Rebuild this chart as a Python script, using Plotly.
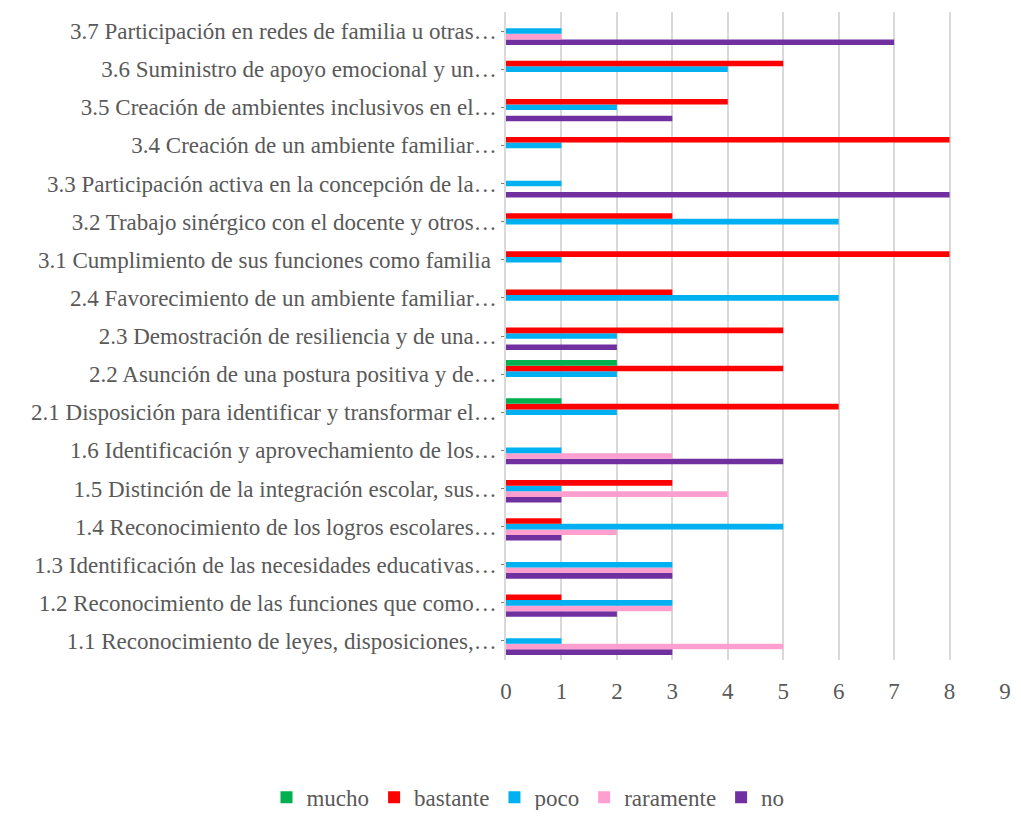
import plotly.graph_objects as go

categories = [
    "1.1 Reconocimiento de leyes, disposiciones,…",
    "1.2 Reconocimiento de las funciones que como…",
    "1.3 Identificación de las necesidades educativas…",
    "1.4 Reconocimiento de los logros escolares…",
    "1.5 Distinción de la integración escolar, sus…",
    "1.6 Identificación y aprovechamiento de los…",
    "2.1 Disposición para identificar y transformar el…",
    "2.2 Asunción de una postura positiva y de…",
    "2.3 Demostración de resiliencia y de una…",
    "2.4 Favorecimiento de un ambiente familiar…",
    "3.1 Cumplimiento de sus funciones como familia ",
    "3.2 Trabajo sinérgico con el docente y otros…",
    "3.3 Participación activa en la concepción de la…",
    "3.4 Creación de un ambiente familiar…",
    "3.5 Creación de ambientes inclusivos en el…",
    "3.6 Suministro de apoyo emocional y un…",
    "3.7 Participación en redes de familia u otras…",
]

mucho     = [0, 0, 0, 0, 0, 0, 1, 2, 0, 0, 0, 0, 0, 0, 0, 0, 0]
bastante  = [0, 1, 0, 1, 3, 0, 6, 5, 5, 3, 8, 3, 0, 8, 4, 5, 0]
poco      = [1, 3, 3, 5, 1, 1, 2, 2, 2, 6, 1, 6, 1, 1, 2, 4, 1]
raramente = [5, 3, 3, 2, 4, 3, 0, 0, 0, 0, 0, 0, 0, 0, 0, 0, 1]
no        = [3, 2, 3, 1, 1, 5, 0, 0, 2, 0, 0, 0, 8, 0, 3, 0, 7]

series = [
    ("mucho", mucho, "#00B050"),
    ("bastante", bastante, "#FF0000"),
    ("poco", poco, "#00B0F0"),
    ("raramente", raramente, "#FF9FD0"),
    ("no", no, "#7030A0"),
]

x_ticks = list(range(0, 10))

fig = go.Figure()
for name, vals, color in reversed(series):
    fig.add_trace(go.Bar(
        y=categories, x=vals, name=name, orientation="h",
        marker=dict(color=color, line=dict(width=0)),
    ))

font_family = "Liberation Serif, Times New Roman, serif"
text_color = "#595959"
fsize = 23

fig.update_layout(
    width=1005, height=802,
    margin=dict(l=498, r=8, t=4, b=150, autoexpand=False),
    barmode="group",
    bargap=0.265,
    bargroupgap=0,
    plot_bgcolor="white",
    paper_bgcolor="white",
    font=dict(family=font_family, size=fsize, color=text_color),
    legend=dict(
        orientation="h", traceorder="reversed",
        xref="paper", x=-0.48, xanchor="left",
        yref="paper", y=-0.212, yanchor="middle",
        font=dict(size=fsize, color=text_color),
    ),
    showlegend=True,
)
fig.update_xaxes(
    range=[0, 9], tickvals=x_ticks, ticktext=[str(t) for t in x_ticks],
    showgrid=True, gridcolor="#D9D9D9", gridwidth=1.5,
    zeroline=False, showline=False,
    ticklabelstandoff=15,
    tickfont=dict(size=fsize, color=text_color),
)
fig.update_yaxes(
    categoryorder="array", categoryarray=categories,
    showgrid=False, zeroline=False,
    showline=True, linecolor="#D9D9D9", linewidth=1.5,
    ticks="outside", ticklen=3, tickcolor="#7F7F7F",
    tickfont=dict(size=fsize, color=text_color),
    ticklabelstandoff=0,
)

fig.write_html("out.html")
